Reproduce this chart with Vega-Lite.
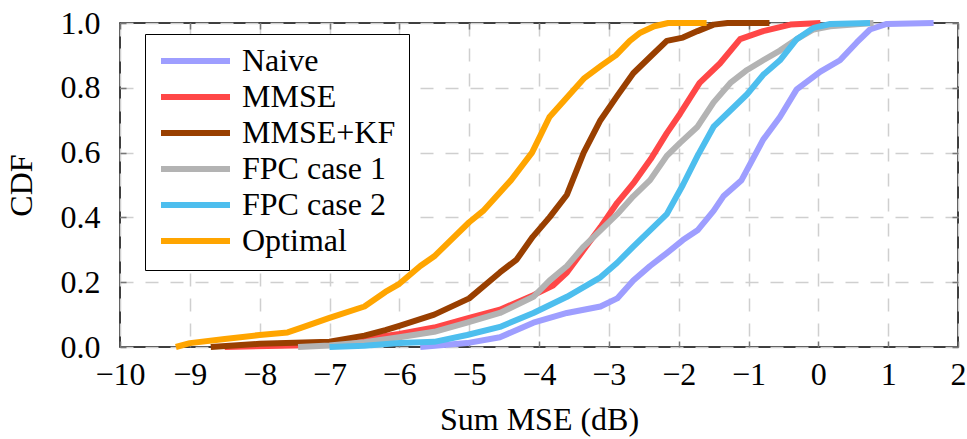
{
  "$schema": "https://vega.github.io/schema/vega-lite/v6.json",
  "width": 838,
  "height": 324,
  "autosize": {"type": "none"},
  "padding": {"left": 120, "top": 23, "right": 9, "bottom": 92},
  "background": "white",
  "config": {
    "font": "Liberation Serif, Times New Roman, Times, serif",
    "view": {"stroke": "black", "strokeWidth": 1.5},
    "axis": {
      "labelFont": "Liberation Serif, Times New Roman, Times, serif",
      "titleFont": "Liberation Serif, Times New Roman, Times, serif",
      "labelColor": "black",
      "titleColor": "black",
      "labelFontSize": 32,
      "titleFontSize": 32,
      "titleFontWeight": "normal",
      "domain": false,
      "tickColor": "#777777",
      "tickWidth": 1.5,
      "gridColor": "#cfcfcf",
      "gridWidth": 1.5,
      "gridDash": [13, 12]
    },
    "legend": {
      "labelFont": "Liberation Serif, Times New Roman, Times, serif",
      "labelFontSize": 32,
      "labelColor": "black"
    }
  },
  "data": {
    "values": [
      {"series": "Naive", "x": -5.7, "y": 0},
      {"series": "Naive", "x": -5.03, "y": 0.012},
      {"series": "Naive", "x": -4.56, "y": 0.03},
      {"series": "Naive", "x": -4.08, "y": 0.075},
      {"series": "Naive", "x": -3.6, "y": 0.105},
      {"series": "Naive", "x": -3.12, "y": 0.125},
      {"series": "Naive", "x": -2.88, "y": 0.15},
      {"series": "Naive", "x": -2.65, "y": 0.205},
      {"series": "Naive", "x": -2.41, "y": 0.25},
      {"series": "Naive", "x": -2.17, "y": 0.29},
      {"series": "Naive", "x": -1.94, "y": 0.33},
      {"series": "Naive", "x": -1.73, "y": 0.36},
      {"series": "Naive", "x": -1.5, "y": 0.42},
      {"series": "Naive", "x": -1.36, "y": 0.465},
      {"series": "Naive", "x": -1.1, "y": 0.515},
      {"series": "Naive", "x": -0.79, "y": 0.64},
      {"series": "Naive", "x": -0.55, "y": 0.71},
      {"series": "Naive", "x": -0.31, "y": 0.795},
      {"series": "Naive", "x": 0.03, "y": 0.85},
      {"series": "Naive", "x": 0.31, "y": 0.885},
      {"series": "Naive", "x": 0.55, "y": 0.94},
      {"series": "Naive", "x": 0.74, "y": 0.98},
      {"series": "Naive", "x": 0.98, "y": 0.997},
      {"series": "Naive", "x": 1.65, "y": 1.0},

      {"series": "MMSE", "x": -8.5, "y": 0},
      {"series": "MMSE", "x": -7.5, "y": 0.005},
      {"series": "MMSE", "x": -7.0, "y": 0.01},
      {"series": "MMSE", "x": -6.5, "y": 0.025},
      {"series": "MMSE", "x": -6.0, "y": 0.04},
      {"series": "MMSE", "x": -5.5, "y": 0.06},
      {"series": "MMSE", "x": -5.0, "y": 0.09},
      {"series": "MMSE", "x": -4.56, "y": 0.115},
      {"series": "MMSE", "x": -4.08, "y": 0.16},
      {"series": "MMSE", "x": -3.8, "y": 0.19},
      {"series": "MMSE", "x": -3.6, "y": 0.23},
      {"series": "MMSE", "x": -3.36, "y": 0.3},
      {"series": "MMSE", "x": -3.12, "y": 0.37},
      {"series": "MMSE", "x": -2.88, "y": 0.445},
      {"series": "MMSE", "x": -2.65, "y": 0.505},
      {"series": "MMSE", "x": -2.4, "y": 0.58},
      {"series": "MMSE", "x": -2.17, "y": 0.66},
      {"series": "MMSE", "x": -1.98, "y": 0.72},
      {"series": "MMSE", "x": -1.7, "y": 0.815},
      {"series": "MMSE", "x": -1.41, "y": 0.875},
      {"series": "MMSE", "x": -1.12, "y": 0.95},
      {"series": "MMSE", "x": -0.79, "y": 0.975},
      {"series": "MMSE", "x": -0.4, "y": 0.995},
      {"series": "MMSE", "x": 0.03, "y": 1.0},

      {"series": "MMSE+KF", "x": -8.7, "y": 0},
      {"series": "MMSE+KF", "x": -8.0, "y": 0.01},
      {"series": "MMSE+KF", "x": -7.0, "y": 0.016},
      {"series": "MMSE+KF", "x": -6.5, "y": 0.035},
      {"series": "MMSE+KF", "x": -6.2, "y": 0.052},
      {"series": "MMSE+KF", "x": -6.0, "y": 0.065},
      {"series": "MMSE+KF", "x": -5.5, "y": 0.1},
      {"series": "MMSE+KF", "x": -5.0, "y": 0.15},
      {"series": "MMSE+KF", "x": -4.56, "y": 0.23},
      {"series": "MMSE+KF", "x": -4.32, "y": 0.27},
      {"series": "MMSE+KF", "x": -4.09, "y": 0.34},
      {"series": "MMSE+KF", "x": -3.85, "y": 0.4},
      {"series": "MMSE+KF", "x": -3.6, "y": 0.47},
      {"series": "MMSE+KF", "x": -3.36, "y": 0.6},
      {"series": "MMSE+KF", "x": -3.12, "y": 0.7},
      {"series": "MMSE+KF", "x": -2.88, "y": 0.775},
      {"series": "MMSE+KF", "x": -2.65, "y": 0.845},
      {"series": "MMSE+KF", "x": -2.41, "y": 0.895},
      {"series": "MMSE+KF", "x": -2.17, "y": 0.945},
      {"series": "MMSE+KF", "x": -1.94, "y": 0.955},
      {"series": "MMSE+KF", "x": -1.73, "y": 0.975},
      {"series": "MMSE+KF", "x": -1.5, "y": 0.995},
      {"series": "MMSE+KF", "x": -1.3, "y": 1.0},
      {"series": "MMSE+KF", "x": -0.7, "y": 1.0},

      {"series": "FPC case 1", "x": -7.45, "y": 0},
      {"series": "FPC case 1", "x": -7.0, "y": 0.005},
      {"series": "FPC case 1", "x": -6.5, "y": 0.015},
      {"series": "FPC case 1", "x": -6.0, "y": 0.03},
      {"series": "FPC case 1", "x": -5.5, "y": 0.047},
      {"series": "FPC case 1", "x": -5.03, "y": 0.075},
      {"series": "FPC case 1", "x": -4.56, "y": 0.105},
      {"series": "FPC case 1", "x": -4.08, "y": 0.155},
      {"series": "FPC case 1", "x": -3.85, "y": 0.205},
      {"series": "FPC case 1", "x": -3.6, "y": 0.25},
      {"series": "FPC case 1", "x": -3.36, "y": 0.31},
      {"series": "FPC case 1", "x": -3.12, "y": 0.36},
      {"series": "FPC case 1", "x": -2.88, "y": 0.41},
      {"series": "FPC case 1", "x": -2.65, "y": 0.465},
      {"series": "FPC case 1", "x": -2.41, "y": 0.515},
      {"series": "FPC case 1", "x": -2.17, "y": 0.59},
      {"series": "FPC case 1", "x": -1.98, "y": 0.63},
      {"series": "FPC case 1", "x": -1.73, "y": 0.68},
      {"series": "FPC case 1", "x": -1.5, "y": 0.755},
      {"series": "FPC case 1", "x": -1.26, "y": 0.815},
      {"series": "FPC case 1", "x": -1.02, "y": 0.855},
      {"series": "FPC case 1", "x": -0.79, "y": 0.885},
      {"series": "FPC case 1", "x": -0.55, "y": 0.915},
      {"series": "FPC case 1", "x": -0.31, "y": 0.95},
      {"series": "FPC case 1", "x": -0.07, "y": 0.98},
      {"series": "FPC case 1", "x": 0.17, "y": 0.99},
      {"series": "FPC case 1", "x": 0.79, "y": 1.0},

      {"series": "FPC case 2", "x": -7.0, "y": 0},
      {"series": "FPC case 2", "x": -6.5, "y": 0.004},
      {"series": "FPC case 2", "x": -6.0, "y": 0.012},
      {"series": "FPC case 2", "x": -5.5, "y": 0.016},
      {"series": "FPC case 2", "x": -5.03, "y": 0.037},
      {"series": "FPC case 2", "x": -4.56, "y": 0.062},
      {"series": "FPC case 2", "x": -4.08, "y": 0.105},
      {"series": "FPC case 2", "x": -3.6, "y": 0.155},
      {"series": "FPC case 2", "x": -3.12, "y": 0.215},
      {"series": "FPC case 2", "x": -2.88, "y": 0.26},
      {"series": "FPC case 2", "x": -2.65, "y": 0.31},
      {"series": "FPC case 2", "x": -2.41, "y": 0.36},
      {"series": "FPC case 2", "x": -2.17, "y": 0.41},
      {"series": "FPC case 2", "x": -1.94, "y": 0.5},
      {"series": "FPC case 2", "x": -1.73, "y": 0.59},
      {"series": "FPC case 2", "x": -1.5, "y": 0.68},
      {"series": "FPC case 2", "x": -1.26, "y": 0.73},
      {"series": "FPC case 2", "x": -1.02, "y": 0.78},
      {"series": "FPC case 2", "x": -0.79, "y": 0.84},
      {"series": "FPC case 2", "x": -0.55, "y": 0.885},
      {"series": "FPC case 2", "x": -0.31, "y": 0.95},
      {"series": "FPC case 2", "x": -0.07, "y": 0.985},
      {"series": "FPC case 2", "x": 0.17, "y": 0.997},
      {"series": "FPC case 2", "x": 0.74, "y": 1.0},

      {"series": "Optimal", "x": -9.2, "y": 0},
      {"series": "Optimal", "x": -9.0, "y": 0.012},
      {"series": "Optimal", "x": -8.5, "y": 0.025},
      {"series": "Optimal", "x": -8.0, "y": 0.037},
      {"series": "Optimal", "x": -7.6, "y": 0.045},
      {"series": "Optimal", "x": -7.4, "y": 0.06},
      {"series": "Optimal", "x": -7.0, "y": 0.09},
      {"series": "Optimal", "x": -6.5, "y": 0.125},
      {"series": "Optimal", "x": -6.2, "y": 0.17},
      {"series": "Optimal", "x": -6.0, "y": 0.195},
      {"series": "Optimal", "x": -5.7, "y": 0.25},
      {"series": "Optimal", "x": -5.5, "y": 0.28},
      {"series": "Optimal", "x": -5.0, "y": 0.385},
      {"series": "Optimal", "x": -4.8, "y": 0.42},
      {"series": "Optimal", "x": -4.4, "y": 0.515},
      {"series": "Optimal", "x": -4.1, "y": 0.6},
      {"series": "Optimal", "x": -3.85, "y": 0.71},
      {"series": "Optimal", "x": -3.6, "y": 0.77},
      {"series": "Optimal", "x": -3.35, "y": 0.83},
      {"series": "Optimal", "x": -3.1, "y": 0.87},
      {"series": "Optimal", "x": -2.9, "y": 0.9},
      {"series": "Optimal", "x": -2.7, "y": 0.945},
      {"series": "Optimal", "x": -2.55, "y": 0.97},
      {"series": "Optimal", "x": -2.35, "y": 0.99},
      {"series": "Optimal", "x": -2.15, "y": 1.0},
      {"series": "Optimal", "x": -1.6, "y": 1.0}
    ]
  },
  "layer": [
    {
      "mark": {"type": "line", "opacity": 0},
      "encoding": {
        "x": {"field": "x", "type": "quantitative", "scale": {"domain": [-10, 2], "nice": false},
          "axis": {"orient": "top", "values": [-10,-9,-8,-7,-6,-5,-4,-3,-2,-1,0,1,2], "labels": false, "grid": false, "ticks": true, "tickSize": -6, "title": null}},
        "y": {"field": "y", "type": "quantitative", "scale": {"domain": [0, 1], "nice": false},
          "axis": {"orient": "right", "values": [0,0.2,0.4,0.6,0.8,1], "labels": false, "grid": false, "ticks": true, "tickSize": -6, "title": null}},
        "detail": {"field": "series"}
      }
    },
    {
      "mark": {"type": "line", "strokeWidth": 6, "strokeJoin": "round"},
      "encoding": {
        "x": {"field": "x", "type": "quantitative", "scale": {"domain": [-10, 2], "nice": false},
          "axis": {"orient": "bottom", "values": [-10,-9,-8,-7,-6,-5,-4,-3,-2,-1,0,1,2], "format": "d", "labelFlush": false, "grid": true, "ticks": true, "tickSize": -6, "labelPadding": 18, "title": "Sum MSE (dB)", "titlePadding": 14}},
        "y": {"field": "y", "type": "quantitative", "scale": {"domain": [0, 1], "nice": false},
          "axis": {"orient": "left", "values": [0,0.2,0.4,0.6,0.8,1], "format": ".1f", "labelFlush": false, "grid": true, "ticks": true, "tickSize": -6, "labelPadding": 26, "title": "CDF", "titlePadding": 22}},
        "color": {
          "field": "series", "type": "nominal",
          "sort": ["Naive", "MMSE", "MMSE+KF", "FPC case 1", "FPC case 2", "Optimal"],
          "scale": {
            "domain": ["Naive", "MMSE", "MMSE+KF", "FPC case 1", "FPC case 2", "Optimal"],
            "range": ["#9e9eff", "#ff4747", "#993f00", "#b3b3b3", "#4dbeee", "#ffa500"]
          },
          "legend": {
            "orient": "none",
            "legendX": 25,
            "legendY": 11,
            "title": null,
            "symbolType": "stroke",
            "symbolSize": 4761,
            "symbolStrokeWidth": 6,
            "symbolOffset": 0,
            "labelOffset": 9,
            "clipHeight": 28,
            "padding": 13,
            "rowPadding": 4,
            "strokeColor": "black",
            "fillColor": "white"
          }
        },
        "order": {"field": "series"}
      }
    }
  ],
  "resolve": {"axis": {"x": "independent", "y": "independent"}}
}
